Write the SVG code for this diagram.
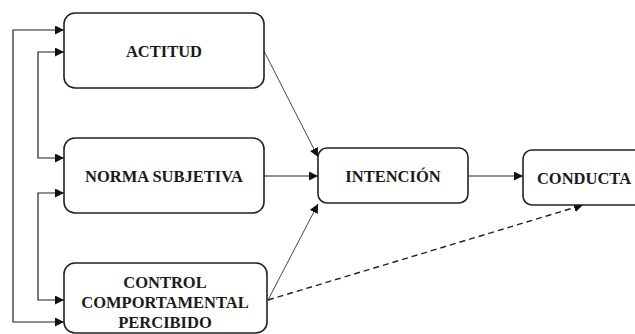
<svg xmlns="http://www.w3.org/2000/svg" width="635" height="334" viewBox="0 0 635 334">
<style>
.box{fill:#fff;stroke:#222;stroke-width:1.6}
.t{font-family:'Liberation Serif','Times New Roman','DejaVu Serif',serif;font-weight:700;font-size:16.5px;fill:#1a1a1a;text-anchor:middle}
.c{fill:none;stroke:#222;stroke-width:1.2}
.s{fill:none;stroke:#333;stroke-width:0.9}
.d{fill:none;stroke:#222;stroke-width:1.4;stroke-dasharray:6,4}
</style>
<defs>
<marker id="ah" viewBox="0 0 10 10" refX="10" refY="5" markerWidth="9" markerHeight="9" markerUnits="userSpaceOnUse" orient="auto-start-reverse">
<path d="M0,0 L10,5 L0,10 Z" fill="#111"/>
</marker>
</defs>
<rect width="635" height="334" fill="#fff"/>
<g id="connectors">
<polyline class="c" points="64,30 13,30 13,322 64,322" marker-start="url(#ah)" marker-end="url(#ah)"/>
<polyline class="c" points="64,52 38,52 38,158 64,158" marker-start="url(#ah)" marker-end="url(#ah)"/>
<polyline class="c" points="64,193 38,193 38,300 64,300" marker-start="url(#ah)" marker-end="url(#ah)"/>
<line class="s" x1="264" y1="51" x2="318" y2="157" marker-end="url(#ah)"/>
<line class="c" x1="264" y1="176" x2="318" y2="176" marker-end="url(#ah)"/>
<line class="s" x1="268" y1="300" x2="318" y2="204" marker-end="url(#ah)"/>
<line class="c" x1="468" y1="176" x2="523" y2="176" marker-end="url(#ah)"/>
<line class="d" x1="268" y1="300" x2="583" y2="205" marker-end="url(#ah)"/>
</g>
<g id="actitud">
<rect class="box" x="64" y="13" width="200" height="75" rx="11"/>
<text class="t" x="164" y="57" font-family="Liberation Serif">ACTITUD</text>
</g>
<g id="norma">
<rect class="box" x="64" y="138" width="200" height="75" rx="11"/>
<text class="t" x="164" y="182" font-family="Liberation Serif">NORMA SUBJETIVA</text>
</g>
<g id="control">
<rect class="box" x="64" y="263" width="203" height="70" rx="11"/>
<text class="t" x="165" y="288" font-family="Liberation Serif">CONTROL</text>
<text class="t" x="165" y="308" font-family="Liberation Serif">COMPORTAMENTAL</text>
<text class="t" x="165" y="328" font-family="Liberation Serif">PERCIBIDO</text>
</g>
<g id="intencion">
<rect class="box" x="318" y="148" width="150" height="55" rx="9"/>
<text class="t" x="393" y="182" font-family="Liberation Serif">INTENCIÓN</text>
</g>
<g id="conducta">
<rect class="box" x="523" y="150" width="130" height="55" rx="9"/>
<text class="t" x="584" y="184" font-family="Liberation Serif">CONDUCTA</text>
</g>
</svg>
